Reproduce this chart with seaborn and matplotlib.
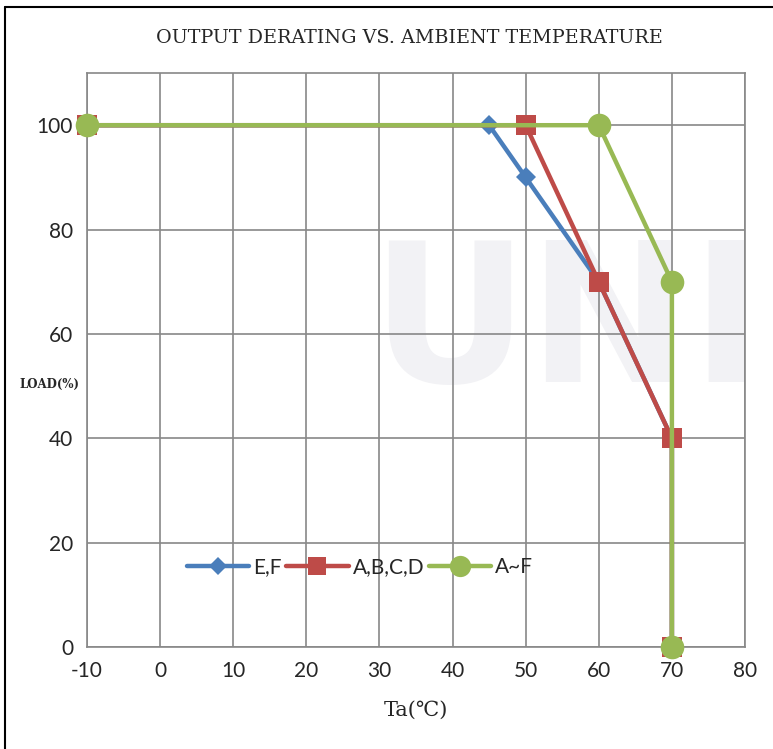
import pandas as pd
import numpy as np
import seaborn as sns
import matplotlib.pyplot as plt
from matplotlib.lines import Line2D

# データ
ta_ef = [-10, 45, 50, 60, 70, 70]
load_ef = [100, 100, 90, 70, 40, 0]
ta_abcd = [-10, 50, 60, 70, 70]
load_abcd = [100, 100, 70, 40, 0]
ta_af = [-10, 60, 70, 70]
load_af = [100, 100, 70, 0]
series_names = ["E,F", "A,B,C,D", "A~F"]
x_ticks = [-10, 0, 10, 20, 30, 40, 50, 60, 70, 80]
y_ticks = [0, 20, 40, 60, 80, 100]

sns.set_style("white")
plt.rcParams['font.family'] = ['Lato', 'DejaVu Sans']

fig = plt.figure(figsize=(7.73, 7.49), dpi=100)
ax = fig.add_axes([0.1125, 0.1362, 0.8513, 0.7663])

# 外枠
fig.add_artist(Line2D([0.0065, 0.0065], [0, 0.99], transform=fig.transFigure, color='black', lw=1.5))
fig.add_artist(Line2D([0.0065, 1.0], [0.99, 0.99], transform=fig.transFigure, color='black', lw=1.5))

# 透かし（背景のロゴ）
ax.text(0.43, 0.555, "UNI", transform=ax.transAxes, fontsize=140, fontweight='bold',
        color='#f2f2f5', family=['DejaVu Sans'], va='center', ha='left',
        zorder=0.1, clip_on=False)

colors = ['#4a7ebb', '#be4b48', '#98b954']
markers = ['D', 's', 'o']
msizes = [10, 15, 17]
data = [(ta_ef, load_ef), (ta_abcd, load_abcd), (ta_af, load_af)]
for i, (xs, ys) in enumerate(data):
    df = pd.DataFrame({"Ta": xs, "LOAD": ys})
    sns.lineplot(data=df, x="Ta", y="LOAD", ax=ax, sort=False, estimator=None,
                 color=colors[i], lw=3.2, marker=markers[i], markersize=msizes[i],
                 markeredgewidth=0, zorder=3 + i, clip_on=False)

ax.set_xlim(-10, 80)
ax.set_ylim(0, 110)
ax.set_xticks(x_ticks)
ax.set_yticks(y_ticks)
ax.set_xticklabels([str(t) for t in x_ticks], fontsize=15)
ax.set_yticklabels([str(t) for t in y_ticks], fontsize=15)
ax.tick_params(length=0, pad=10)
ax.grid(True, color='#888888', lw=1.2, zorder=0.5)
ax.set_axisbelow(True)
for s in ax.spines.values():
    s.set_color('#888888')
    s.set_linewidth(1.2)

ax.set_xlabel("Ta(℃)", fontsize=15, family=['DejaVu Serif', 'Noto Sans CJK SC'], labelpad=14)
ax.set_ylabel("")
fig.text(0.025, 0.487, "LOAD(%)", fontsize=8.5, fontweight='bold', family=['DejaVu Serif'],
         va='center', ha='left')
fig.text(0.529, 0.949, "OUTPUT DERATING VS. AMBIENT TEMPERATURE", fontsize=13.8,
         family=['DejaVu Serif'], ha='center', va='center')

handles = [Line2D([], [], color=colors[i], lw=3.2, marker=markers[i],
                  markersize=msizes[i] * 0.9, markeredgewidth=0) for i in range(3)]
ax.legend(handles, series_names, loc='center', bbox_to_anchor=(0.415, 0.139), ncol=3,
          frameon=False, fontsize=15, handlelength=3.0, columnspacing=0.2, handletextpad=0.2)

fig.savefig("out.png", dpi=100)
